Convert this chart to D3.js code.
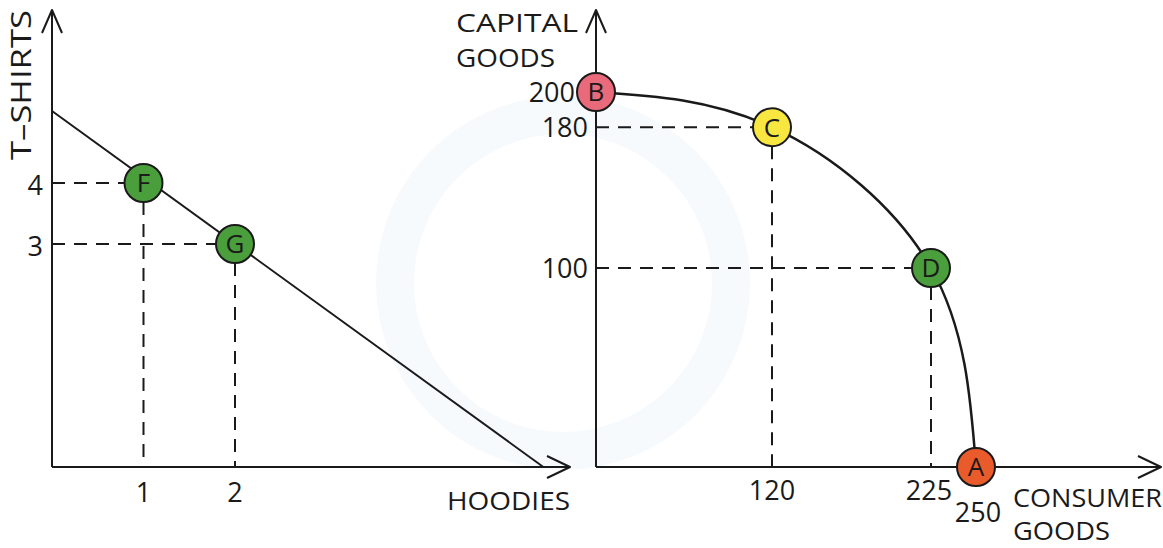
<!DOCTYPE html>
<html><head><meta charset="utf-8">
<script src="https://cdn.jsdelivr.net/npm/d3@7"></script>
<style>
body{margin:0;background:#fff}
svg{display:block}
text{font-family:"Open Sans",sans-serif;fill:#1a1a1a}
</style>
</head><body>
<svg id="chart" width="1163" height="548"></svg>
<script>
// ---- Left chart: T-shirts vs hoodies ----
const leftLabels   = ["F", "G"];
const leftHoodies  = [1, 2];
const leftShirts   = [4, 3];
const leftLineHoodies = [0, 5.37];
const leftLineShirts  = [5.18, 0];
const leftXTicks = [1, 2];
const leftYTicks = [4, 3];

// ---- Right chart: PPF capital vs consumer goods ----
const rightLabels   = ["B", "C", "D", "A"];
const consumerGoods = [0, 120, 225, 250];
const capitalGoods  = [200, 180, 100, 0];
const rightXTicks = [120, 225, 250];
const rightYTicks = [200, 180, 100];

const pointColor = {F:"#4a9e3c", G:"#4a9e3c", B:"#e86a7b", C:"#f8e741", D:"#4a9e3c", A:"#ea5b2b"};

const svg = d3.select("#chart");
const ink = "#1a1a1a";
const R = 19;

// faint background watermark
svg.append("circle").attr("cx", 563).attr("cy", 283).attr("r", 168)
  .attr("fill", "none").attr("stroke", "#f7fafd").attr("stroke-width", 38);

// scales (schematic axes, calibrated to the labelled ticks)
const xL = d3.scaleLinear().domain([0, 2]).range([52, 235]);
const yL = d3.scaleLinear().domain([0, 3, 4]).range([467, 244, 183]);
const xR = d3.scaleLinear().domain([0, 120, 225, 250]).range([596, 772, 931, 976]);
const yR = d3.scaleLinear().domain([0, 100, 200]).range([467, 268, 92]);

const axisTop = 10;

function arrow(g, x, y, dir, len, spread) {
  const p = dir === "up"
    ? [[x - spread, y + len], [x, y], [x + spread, y + len]]
    : [[x - len, y - spread], [x, y], [x - len, y + spread]];
  g.append("path").attr("d", d3.line()(p)).attr("fill", "none")
    .attr("stroke", ink).attr("stroke-width", 2).attr("stroke-linejoin", "round");
}

function drawPanel(opts) {
  const {xs, ys, labels, xv, yv, xEnd, g} = opts;
  const x0 = xs(0), y0 = ys(0);
  labels.forEach((lab, i) => {
    const cx = xs(xv[i]), cy = ys(yv[i]);
    if (xv[i] > 0 && yv[i] > 0) {
      g.append("line").attr("x1", x0).attr("x2", cx - R).attr("y1", cy).attr("y2", cy)
        .attr("stroke", ink).attr("stroke-width", 2).attr("stroke-dasharray", "13,9");
      g.append("line").attr("x1", cx).attr("x2", cx).attr("y1", cy + R).attr("y2", y0)
        .attr("stroke", ink).attr("stroke-width", 2).attr("stroke-dasharray", "13,9");
    }
  });
  g.append("line").attr("x1", x0).attr("x2", x0).attr("y1", y0).attr("y2", axisTop)
    .attr("stroke", ink).attr("stroke-width", 2);
  g.append("line").attr("x1", x0).attr("x2", xEnd).attr("y1", y0).attr("y2", y0)
    .attr("stroke", ink).attr("stroke-width", 2);
  arrow(g, x0, axisTop, "up", 23, 10);
  arrow(g, xEnd, y0, "right", 23, 11);
}

const gL = svg.append("g");
drawPanel({xs: xL, ys: yL, labels: leftLabels, xv: leftHoodies, yv: leftShirts, xEnd: 570, g: gL});
const gR = svg.append("g");
drawPanel({xs: xR, ys: yR, labels: rightLabels, xv: consumerGoods, yv: capitalGoods, xEnd: 1161, g: gR});

gL.append("path")
  .attr("d", d3.line().x((d, i) => xL(leftLineHoodies[i])).y(d => yL(d))(leftLineShirts))
  .attr("fill", "none").attr("stroke", ink).attr("stroke-width", 2);

gR.append("path")
  .attr("d", d3.line().curve(d3.curveNatural)
    .x((d, i) => xR(consumerGoods[i])).y(d => yR(d))(capitalGoods))
  .attr("fill", "none").attr("stroke", ink).attr("stroke-width", 2.5);

function drawPoints(g, xs, ys, labels, xv, yv) {
  labels.forEach((lab, i) => {
    const cx = xs(xv[i]), cy = ys(yv[i]);
    g.append("circle").attr("cx", cx).attr("cy", cy).attr("r", R)
      .attr("fill", pointColor[lab]).attr("stroke", ink).attr("stroke-width", 2);
    g.append("text").attr("x", cx).attr("y", cy).attr("dy", "0.36em")
      .attr("text-anchor", "middle").attr("font-size", 26).text(lab);
  });
}
drawPoints(gL, xL, yL, leftLabels, leftHoodies, leftShirts);
drawPoints(gR, xR, yR, rightLabels, consumerGoods, capitalGoods);

const fs = 27;
leftYTicks.forEach(v => svg.append("text").attr("x", 43).attr("y", yL(v) + 12)
  .attr("text-anchor", "end").attr("font-size", fs).text(v));
leftXTicks.forEach(v => svg.append("text").attr("x", xL(v)).attr("y", 502)
  .attr("text-anchor", "middle").attr("font-size", fs).text(v));
rightYTicks.forEach(v => svg.append("text").attr("x", v === 200 ? 575 : 588).attr("y", yR(v) + 10)
  .attr("text-anchor", "end").attr("font-size", fs).text(v));
rightXTicks.forEach(v => svg.append("text").attr("x", xR(v) + (v === 250 ? 2 : (v === 225 ? -2 : 0)))
  .attr("y", v === 250 ? 522 : 500)
  .attr("text-anchor", "middle").attr("font-size", fs).text(v));

function title(x, y, s, len) {
  return svg.append("text").attr("x", x).attr("y", y).attr("font-size", 26)
    .attr("textLength", len).attr("lengthAdjust", "spacingAndGlyphs").text(s);
}
svg.append("text").attr("transform", "translate(31,85) rotate(-90)")
  .attr("text-anchor", "middle").attr("font-size", 27)
  .attr("textLength", 150).attr("lengthAdjust", "spacingAndGlyphs").text("T–SHIRTS");
title(447, 510, "HOODIES", 123);
title(456, 32, "CAPITAL", 122);
title(456, 67, "GOODS", 99);
title(1013, 507, "CONSUMER", 149);
title(1013, 540, "GOODS", 97);
</script>
</body></html>
